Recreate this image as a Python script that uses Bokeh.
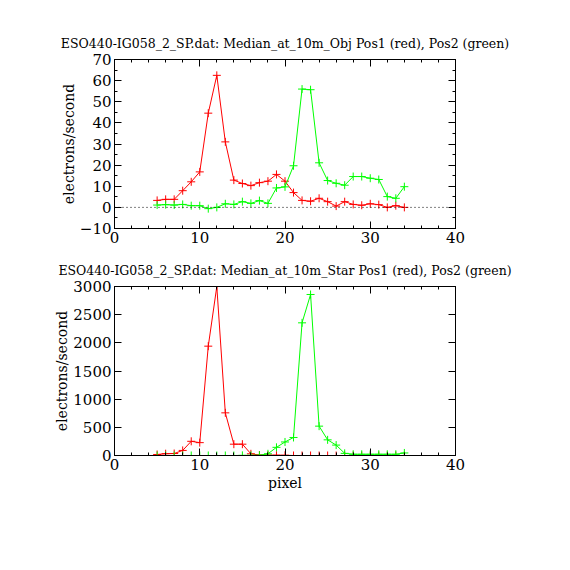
from bokeh.plotting import figure
from bokeh.layouts import column
from bokeh.models import Range1d, SingleIntervalTicker, LinearAxis, Span, Title, CustomJSTickFormatter
from bokeh.embed import file_html
from bokeh.resources import INLINE

pixel = list(range(5, 35))

obj_pos1 = [3.3, 3.8, 3.8, 7.9, 12.1, 16.8, 44.6, 62.5, 31.0, 12.9, 11.3, 10.3, 11.7, 12.4, 15.6,
            12.4, 7.0, 3.3, 2.9, 4.3, 2.7, 0.6, 2.7, 1.4, 1.0, 1.7, 1.3, 0.0, 0.8, 0.0]
obj_pos2 = [1.1, 1.3, 1.1, 1.4, 0.8, 0.8, -0.6, 0.0, 1.7, 1.4, 2.7, 1.9, 3.2, 1.9, 9.2,
            9.7, 19.7, 56.0, 55.7, 21.1, 12.7, 11.4, 10.5, 14.6, 14.6, 13.8, 13.2, 5.1, 4.3, 9.8]

star_pos1 = [18, 32, 35, 90, 252, 228, 1941, 3000, 757, 201, 201, 30, 8, 6, 5,
             4, 0, 0, 0, 0, 0, 0, 0, 0, 0, 0, 0, 0, 0, 0]
star_pos2 = [0, 0, 0, 0, 0, 0, 0, 0, 0, 0, 2, 3, 4, 30, 145,
             240, 320, 2355, 2858, 521, 278, 185, 38, 22, 22, 22, 22, 22, 22, 45]

title_obj = "ESO440-IG058_2_SP.dat: Median_at_10m_Obj Pos1 (red), Pos2 (green)"
title_star = "ESO440-IG058_2_SP.dat: Median_at_10m_Star Pos1 (red), Pos2 (green)"
ylabel = "electrons/second"
xlabel = "pixel"

FONT = "DejaVu Serif"
RED = "#ff0000"
GREEN = "#00ff00"


def style_axis(ax, labels=True, minor=True):
    ax.axis_line_color = "black"
    ax.major_tick_in = 7
    ax.major_tick_out = 0
    ax.minor_tick_in = 3 if minor else 0
    ax.minor_tick_out = 0
    ax.major_tick_line_color = "black"
    ax.minor_tick_line_color = "black" if minor else None
    ax.major_label_text_font = FONT
    ax.major_label_text_font_size = "15px"
    ax.major_label_text_color = "black"
    ax.major_label_standoff = 3
    ax.axis_label_text_font = FONT
    ax.axis_label_text_font_style = "normal"
    ax.axis_label_text_font_size = "14px"
    ax.axis_label_text_color = "black"
    if not labels:
        ax.formatter = CustomJSTickFormatter(code="return '';")
        ax.major_label_standoff = 0


def make_fig(height, top, bottom, yr, yint, yminor, title, y1, y2, xlab=None, zero_line=False):
    p = figure(width=562, height=height, x_range=Range1d(0, 40), y_range=Range1d(*yr),
               output_backend="svg", toolbar_location=None,
               min_border_left=114, min_border_right=107,
               min_border_top=top, min_border_bottom=bottom, x_axis_type=None, y_axis_type=None)
    p.outline_line_color = "black"
    p.outline_line_alpha = 1.0
    p.grid.visible = False
    p.background_fill_color = "white"
    p.border_fill_color = "white"

    xt = SingleIntervalTicker(interval=10, num_minor_ticks=5)
    yt = SingleIntervalTicker(interval=yint, num_minor_ticks=yminor if yminor else 1)

    xb = LinearAxis(ticker=xt)
    style_axis(xb)
    if xlab:
        xb.axis_label = xlab
        xb.axis_label_standoff = 2
    p.add_layout(xb, "below")
    xa = LinearAxis(ticker=xt)
    style_axis(xa, labels=False)
    p.add_layout(xa, "above")

    yl = LinearAxis(ticker=yt, axis_label=ylabel)
    style_axis(yl, minor=bool(yminor))
    yl.axis_label_standoff = 0
    p.add_layout(yl, "left")
    yrr = LinearAxis(ticker=yt)
    style_axis(yrr, labels=False, minor=bool(yminor))
    p.add_layout(yrr, "right")

    t = Title(text=title, text_font=FONT, text_font_size="12.5px", text_font_style="normal",
              align="center", text_color="black", offset=0, standoff=17)
    p.add_layout(t, "above")

    if zero_line:
        p.add_layout(Span(location=0, dimension="width", line_color="black",
                          line_dash="1 3", line_width=1))

    p.line(pixel, y1, line_color=RED, line_width=1)
    p.scatter(pixel, y1, marker="cross", size=8, line_color=RED, line_width=1)
    p.line(pixel, y2, line_color=GREEN, line_width=1)
    p.scatter(pixel, y2, marker="cross", size=8, line_color=GREEN, line_width=1)
    return p


p1 = make_fig(250, 59, 22, (-10, 70), 10, 2, title_obj, obj_pos1, obj_pos2, zero_line=True)
p2 = make_fig(312, 36, 107, (0, 3000), 500, 0, title_star, star_pos1, star_pos2, xlab=xlabel)

layout = column(p1, p2, spacing=0)
open("out.html", "w").write(file_html(layout, INLINE))
